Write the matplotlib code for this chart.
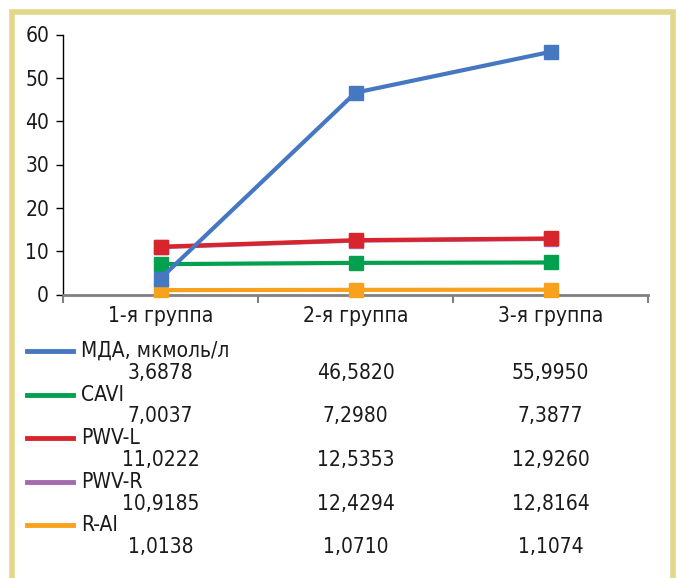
import matplotlib.pyplot as plt
from matplotlib.lines import Line2D
from matplotlib.patches import Rectangle
from matplotlib.transforms import blended_transform_factory

# police étroite, proche de l'original
plt.rcParams['font.family'] = ['DejaVu Sans']
plt.rcParams['font.stretch'] = 'condensed'

# ---------- data ----------
groups = ["1-я группа", "2-я группа", "3-я группа"]
series_names = ["МДА, мкмоль/л", "CAVI", "PWV-L", "PWV-R", "R-AI"]
mda = [3.6878, 46.5820, 55.9950]
cavi = [7.0037, 7.2980, 7.3877]
pwv_l = [11.0222, 12.5353, 12.9260]
pwv_r = [10.9185, 12.4294, 12.8164]
r_ai = [1.0138, 1.0710, 1.1074]
series_values = [mda, cavi, pwv_l, pwv_r, r_ai]
colors = ["#4677c1", "#03a04f", "#d8242c", "#a46aae", "#f8a11c"]
zorders = [7, 5, 4, 3, 6]
y_ticks = [0, 10, 20, 30, 40, 50, 60]

W, H = 678, 578
fig = plt.figure(figsize=(W / 100, H / 100), dpi=100)

# cadre autour de la figure
fig.patches.append(Rectangle((12 / W, -0.05), (673 - 12) / W, 1.05 - 12 / H,
                             transform=fig.transFigure, fill=False,
                             edgecolor="#e2d78a", linewidth=4))

ax = fig.add_axes([63 / W, 1 - 294.5 / H, 585 / W, 260 / H])
xs = [i + 0.5 for i in range(len(groups))]

for name, vals, c, z in zip(series_names, series_values, colors, zorders):
    ax.plot(xs, vals, color=c, lw=3, marker="s", markersize=9.5,
            zorder=z, clip_on=False)

ax.set_xlim(0, len(groups))
ax.set_ylim(0, 60)
ax.set_yticks(y_ticks)
ax.set_xticks(range(len(groups) + 1))
ax.set_xticklabels([])
ax.tick_params(axis="y", length=5, width=1, labelsize=15, pad=5,
               colors="black", labelcolor="#1a1a1a")
ax.tick_params(axis="x", length=6, width=1.5, color="#808080")
for s in ["top", "right"]:
    ax.spines[s].set_visible(False)
ax.spines["bottom"].set_color("#808080")
ax.spines["bottom"].set_linewidth(2)
ax.spines["left"].set_linewidth(1)

tr = blended_transform_factory(ax.transData, fig.transFigure)
for x, g in zip(xs, groups):
    fig.text(x, 1 - 316 / H, g, transform=tr, ha="center", va="center",
             fontsize=15, color="#1a1a1a")

# ---------- tableau de données sous le graphique ----------
row0 = 351
step = 43.6
for i, (name, vals, c) in enumerate(zip(series_names, series_values, colors)):
    y_lab = 1 - (row0 + i * step) / H
    y_val = 1 - (row0 + i * step + 21.8) / H
    fig.add_artist(Line2D([27 / W, 73 / W], [y_lab, y_lab], color=c, lw=3.5,
                          transform=fig.transFigure))
    fig.text(81 / W, y_lab, name, ha="left", va="center", fontsize=15, color="#1a1a1a")
    for x, v in zip(xs, vals):
        fig.text(x, y_val, f"{v:.4f}".replace(".", ","), transform=tr,
                 ha="center", va="center", fontsize=15, color="#1a1a1a")

fig.savefig("out.png", dpi=100)
